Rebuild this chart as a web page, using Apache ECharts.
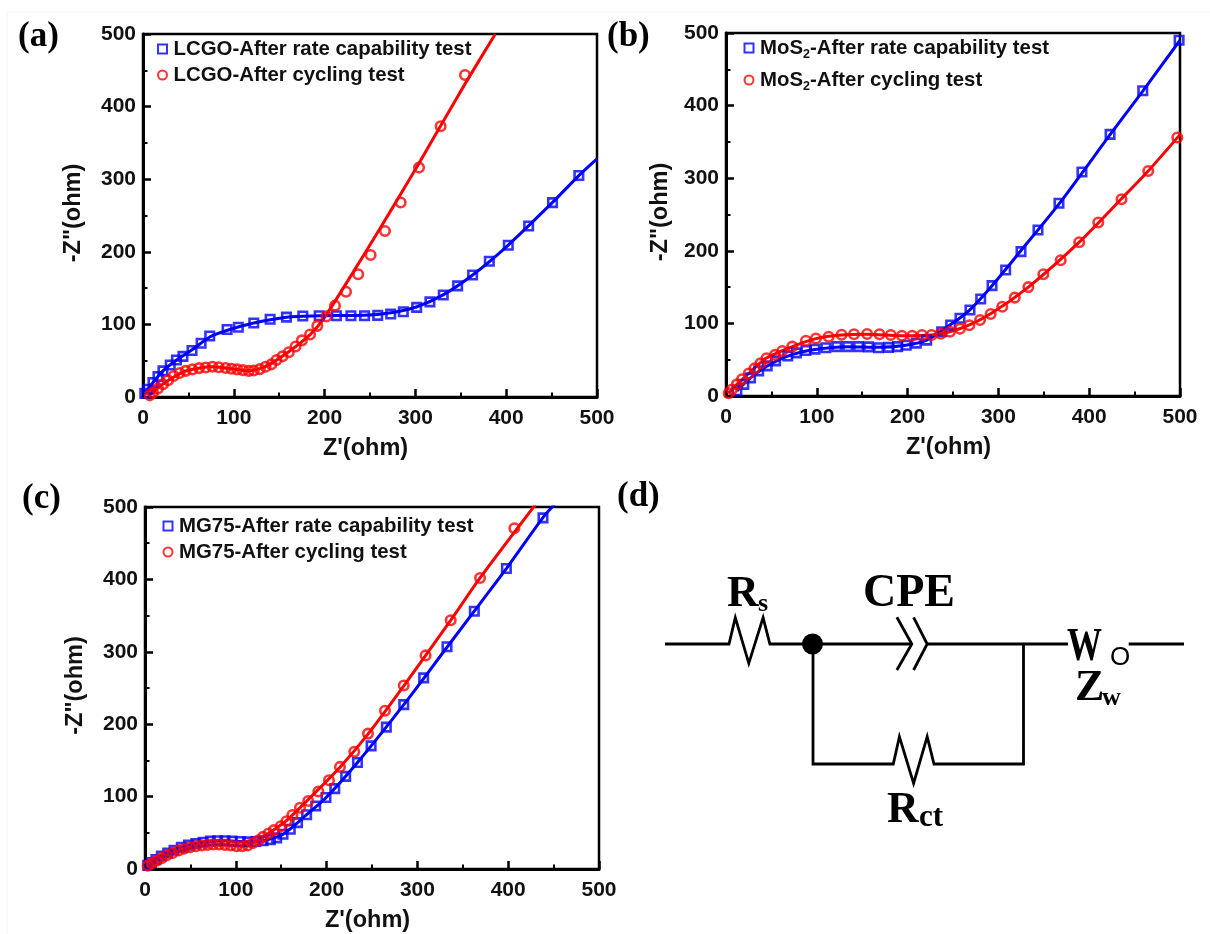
<!DOCTYPE html>
<html><head><meta charset="utf-8">
<style>html,body{margin:0;padding:0;background:#fff}#c{width:1210px;height:934px}</style>
<script src="https://cdn.jsdelivr.net/npm/echarts@6/dist/echarts.min.js"></script>
</head><body><div id="c"></div>
<script>
const axisTicks = {min:0, max:500, interval:100};
const xTitle = "Z'(ohm)";
const yTitle = '-Z"(ohm)';
const blue = '#0000ff', red = '#ff0000';

const aRateNames = 'LCGO-After rate capability test';
const aCycleNames = 'LCGO-After cycling test';
const bRateNames = 'MoS2-After rate capability test';
const bCycleNames = 'MoS2-After cycling test';
const cRateNames = 'MG75-After rate capability test';
const cCycleNames = 'MG75-After cycling test';

const aRatePts = [[2,5],[5.5,10.6],[11,20],[16.5,28],[22,36],[30,44],[36.8,51],[44,56],[54,64],[64,74],[73.5,84],[92.6,93],[105,96],[122,102],[140,107],[158,110],[176,111.5],[194,112],[213,112],[229,112],[244,112],[258.5,112.5],[272.8,114.3],[286.7,117.5],[301.4,123.5],[316,131],[330.7,140.5],[346.5,153],[363,168],[381.4,187],[402.3,209],[424.7,235.5],[451,267.7],[480,305]];
const aRateFit = [[2,5],[11,20],[22,36],[37,51],[54,65],[74,83],[93,92],[122,102],[158,110],[194,112],[244,112.5],[273,116],[301,124],[331,141],[363,168],[402,209],[451,268],[480,305],[500,328]];
const aCyclePts = [[7.4,2.3],[11,6],[16.5,11.6],[22,17.6],[27.6,23],[33.8,29],[40.4,33],[47,36],[54.4,38],[61.8,39.8],[69,40.7],[76.5,41.7],[83.5,41],[91,40],[97.4,39],[103.7,38],[110,37],[116.5,36],[122,36.6],[128.7,38.4],[135,41.7],[141.5,45],[147,51],[153.7,56],[160.6,61.6],[168,69.5],[175,78],[184,86],[192,98],[202,111],[211.5,125.8],[223.6,145],[237,169],[250.7,195.6],[266.5,228.6],[283.8,268],[304,316],[327.8,373],[354.6,443.5]];
const aCycleFit = [[7,2],[16,12],[28,23],[47,36],[76,41.5],[97,39],[116,36],[135,42],[160,62],[184,86],[199,108],[232,173],[261,232],[283,278],[304,322],[328,374],[355,432],[388,500]];

const bRatePts = [[12,7],[19.6,16],[27,25],[36,34.6],[45.4,41.5],[54.6,48.4],[68,55],[77.5,59.4],[88,62.7],[98,64.5],[110,66.4],[122,68],[134,68],[146,68],[157,67.7],[168,66.4],[179,67],[189,68],[198.5,70],[209.6,72.8],[221,77],[237.5,88.6],[247.4,97.8],[257.7,107],[268.7,118.5],[280.5,133.6],[293,152],[308,173.6],[324.9,198.8],[343.6,228.6],[366.7,265.4],[392,308.5],[423,360.4],[459,420.5],[499,490]];
const bRateFit = [[12,7],[27,25],[45,41],[68,55],[98,64],[134,68],[168,67],[198,70],[221,77],[247,98],[268,118],[293,152],[324,199],[367,265],[423,360],[459,420],[500,490]];
const bCyclePts = [[3,3.7],[6.6,9],[12,16],[17.7,23],[25,31],[31.4,38],[38,45],[44.6,52],[54,56.7],[62,62],[73,68],[88,76],[99,79.3],[113,81.6],[127.3,84.3],[141,85],[155.4,85.3],[169,85],[181.5,84],[193.7,83],[205,83],[215.9,84],[226.5,84],[236.5,85.8],[246.7,88.6],[257.7,92.7],[268,97.5],[279.8,104.7],[291.5,113],[304.3,123],[318,135.5],[333,150],[349.5,167.6],[368.6,187],[389,211.7],[410,239],[435.6,271],[465,310],[497,356]];
const bCycleFit = [[3,4],[12,16],[25,31],[44,52],[73,68],[99,79],[127,84],[155,85],[193,83],[226,84],[258,93],[291,113],[333,150],[389,212],[435,271],[465,310],[500,360]];

const cRatePts = [[3,5],[7,9],[12,13],[18,18],[25,22],[32,26],[40,30],[48,33],[56,35],[64,37],[72,38.5],[80,39],[88,39],[96,38.5],[105,38],[113,37.5],[122,38],[130,39],[138,40.5],[145,43],[152,48],[160,55],[168,64],[178,75],[188,87],[199.3,98.7],[209,111],[221,128],[234,147],[249,170],[265.8,196],[285,227],[306.9,264],[332.6,307],[362.7,356],[398,415],[438.3,485]];
const cRateFit = [[3,5],[18,18],[40,30],[64,37],[88,39],[113,37.5],[130,39],[152,48],[178,75],[199,98],[234,147],[285,227],[333,307],[398,415],[438,485],[452,505]];
const cCyclePts = [[3,4.6],[7.3,7.9],[12.8,11.6],[18.3,15],[24,19],[30.4,22],[37,25.5],[43,28],[49.8,30],[56,31.5],[62.6,32.4],[69,33.3],[75,33.8],[81.7,33.8],[88,33.3],[94.5,32.4],[100.7,31.5],[107,31.5],[113,32.4],[119,36],[125,39.8],[130,44.4],[136,49],[142,53.7],[149.5,59],[155.7,66],[162.3,74.5],[170.7,84.7],[179.8,94],[190.9,107],[202.6,122.6],[214.7,141],[230.5,162],[245.6,187],[264.3,218.6],[285,253.5],[309,295],[336.7,343.5],[369,402],[406.8,470.6]];
const cCycleFit = [[3,5],[18,15],[43,28],[69,33.5],[88,33.5],[107,31.5],[119,36],[136,49],[155,66],[179,95],[215,141],[246,187],[285,253],[337,344],[369,402],[431,505]];

const frames = [
  {left:143, top:34, nameGapY:57, rate:aRatePts, rateFit:aRateFit, cyc:aCyclePts, cycFit:aCycleFit, rn:aRateNames, cn:aCycleNames, lx:155.5, ly:39, gap:6},
  {left:726, top:33, nameGapY:53, rate:bRatePts, rateFit:bRateFit, cyc:bCyclePts, cycFit:bCycleFit, rn:bRateNames, cn:bCycleNames, lx:742, ly:38, gap:9},
  {left:145, top:507, nameGapY:57, rate:cRatePts, rateFit:cRateFit, cyc:cCyclePts, cycFit:cCycleFit, rn:cRateNames, cn:cCycleNames, lx:161, ly:516, gap:6}
];
const font = '"Liberation Sans"', serif = '"Liberation Serif"';
const grid=[], xAxis=[], yAxis=[], series=[], legend=[];
function axis(i, name, gap, labelMargin, namePadding){
  return Object.assign({gridIndex:i, type:'value', name, nameLocation:'middle', nameGap:gap,
    nameTextStyle:{fontFamily:font,fontWeight:'bold',fontSize:23.5,color:'#111',padding:namePadding},
    axisLine:{show:true,lineStyle:{color:'#000',width:3}},
    axisTick:{show:true,inside:true,length:8,lineStyle:{color:'#000',width:2.5}},
    minorTick:{show:true,splitNumber:2,length:4.5,lineStyle:{color:'#000',width:2}},
    splitLine:{show:false}, minorSplitLine:{show:false},
    axisLabel:{fontFamily:font,fontWeight:'bold',fontSize:21,color:'#111',margin:labelMargin,hideOverlap:false,showMinLabel:true,showMaxLabel:true}
  }, axisTicks);
}
frames.forEach((f,i)=>{
  grid.push({left:f.left,top:f.top,width:454,height:363,show:true,borderColor:'#000',borderWidth:2.5,backgroundColor:'transparent'});
  xAxis.push(axis(i,xTitle,40,11,[0,9,0,0]));
  yAxis.push(axis(i,yTitle,f.nameGapY,7,[0,0,0,5]));
  const add=(fit,pts,name,color,sym,size)=>{
    series.push({type:'line',name:name+' fit',xAxisIndex:i,yAxisIndex:i,data:fit,smooth:0.25,showSymbol:false,silent:true,
      lineStyle:{color,width:3},itemStyle:{color},clip:true,z:2});
    series.push({type:'scatter',name,xAxisIndex:i,yAxisIndex:i,data:pts,symbol:sym,symbolSize:size,silent:true,
      itemStyle:{color:'none',borderColor:color,borderWidth:2.6},clip:false,z:3});
  };
  add(f.rateFit,f.rate,f.rn,blue,'rect',8.5);
  add(f.cycFit,f.cyc,f.cn,red,'circle',9.5);
  legend.push({orient:'vertical',left:f.lx,top:f.ly,itemWidth:9,itemHeight:9,itemGap:f.gap,padding:0,
    data:[f.rn,f.cn],selectedMode:false,
    textStyle:{fontFamily:font,fontWeight:'bold',fontSize:20.4,color:'#111',padding:[0,0,0,1.5],
      rich:{t:{fontFamily:font,fontWeight:'bold',fontSize:20.4,color:'#111'},s:{fontFamily:font,fontWeight:'bold',fontSize:12.5,color:'#111',padding:[13,0,0,0]}}},
    formatter:n=>n.indexOf('MoS2')===0?'{t|MoS}{s|2}{t|'+n.slice(4)+'}':'{t|'+n+'}'});
});

const wire=(pts,w)=>({type:'polyline',shape:{points:pts},style:{stroke:'#000',lineWidth:w||2.8,fill:null,lineJoin:'miter'},z:5});
const label=(text,x,y,size,fam,weight,extra)=>Object.assign({type:'text',x,y,z:6,style:{text,fontFamily:fam||serif,fontWeight:weight||'bold',fontSize:size,fill:'#000',align:'left',verticalAlign:'bottom'}},extra||{});
const graphic=[
  {type:'polyline',shape:{points:[[7,934],[7,12],[1210,12]]},style:{stroke:'#f2f2f2',lineWidth:1,fill:null},z:0},
  label('(a)',18,54,35), label('(b)',607,54,35), label('(c)',22,516,35), label('(d)',617,514,35),
  wire([[665,644],[729,644],[735.3,617.7],[748.8,663.3],[763.1,617.7],[769.9,644],[911.8,644]]),
  wire([[896.9,617.3],[911.8,644],[896.9,670]]),
  wire([[913.6,617.3],[927.2,644],[913.6,670]]),
  wire([[927.2,644],[1068,644]]),
  wire([[1128.7,644],[1184,644]]),
  wire([[813,644],[813,764],[893.3,764],[899.4,736.7],[913.6,783.3],[927.2,736.7],[934,764],[1023.5,764],[1023.5,644]]),
  {type:'circle',shape:{cx:812.5,cy:644,r:10.5},style:{fill:'#000'},z:6},
  label('R',727,617,44), label('s',758,617,26),
  label('CPE',863,617,46),
  label('W',1067,671,46,null,null,{scaleX:0.76}), label('O',1110,671,26,font,'normal'),
  label('Z',1075,711,44), label('w',1102,711,26),
  label('R',887,833,44), label('ct',919,833,31)
];

const chart=echarts.init(document.getElementById('c'),null,{renderer:'canvas'});
chart.setOption({animation:false,backgroundColor:'#fff',grid,xAxis,yAxis,series,legend,graphic});
</script></body></html>
